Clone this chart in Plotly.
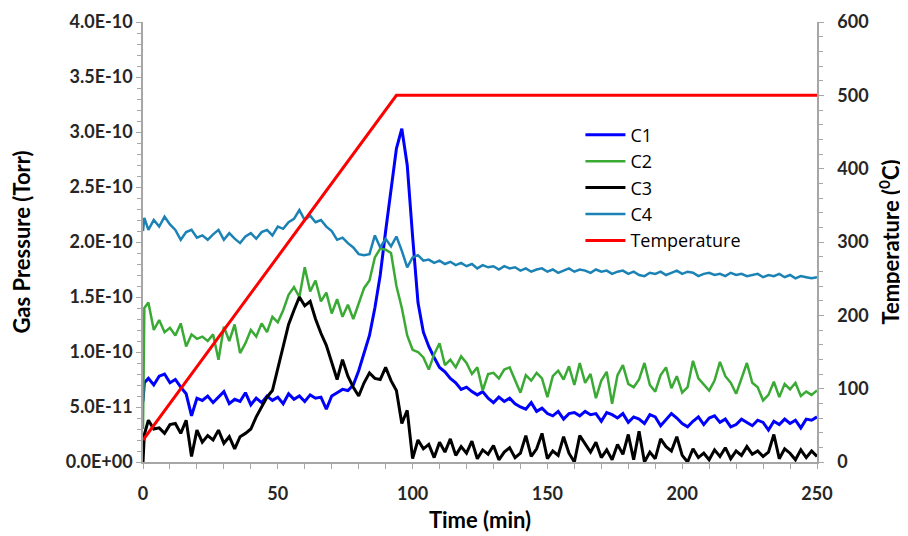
import plotly.graph_objects as go

# Time axis (min)
time = [0, 0.5] + list(range(2, 251, 2))

# Gas pressures in units of 1E-11 Torr
c1 = [5.5, 7.2, 7.6, 7.0, 7.8, 8.0, 7.2, 7.5, 6.8, 6.2,
      4.2, 5.8, 5.6, 6.0, 5.4, 5.9, 6.4, 5.3, 5.7, 5.5,
      6.3, 5.2, 5.8, 5.4, 6.0, 5.6, 5.9, 5.3, 6.2, 5.7,
      6.0, 5.5, 6.1, 5.8, 5.9, 4.8, 6.0, 6.3, 6.6, 6.5,
      7.0, 8.3, 10.0, 11.5, 14.0, 17.0, 21.0, 25.0, 28.5, 30.3,
      27.0, 20.5, 14.5, 11.8, 10.5, 9.5, 8.6, 8.2, 7.6, 7.2,
      6.6, 6.8, 6.4, 6.1, 6.4, 5.8, 5.4, 5.9, 5.5, 5.8,
      5.3, 5.0, 4.8, 5.4, 4.6, 4.9, 4.4, 4.2, 4.6, 3.9,
      4.4, 4.5, 4.2, 4.6, 4.3, 4.4, 3.7, 4.5, 4.3, 4.0,
      4.4, 3.6, 4.1, 3.9, 3.5, 4.3, 4.1, 3.3, 3.9, 4.4,
      4.0, 3.5, 3.2, 3.7, 4.1, 3.4, 4.0, 4.2, 3.6, 3.9,
      3.2, 3.4, 3.9, 3.6, 3.3, 3.8, 3.6, 2.9, 3.7, 3.4,
      3.9, 3.5, 3.8, 3.1, 3.9, 3.8, 4.1]

c2 = [3.0, 14.0, 14.5, 12.0, 12.9, 11.8, 12.2, 11.5, 12.6, 10.5,
      11.6, 11.2, 11.4, 11.0, 11.6, 9.3, 12.3, 11.0, 12.5, 9.9,
      10.8, 12.0, 11.4, 12.6, 11.8, 13.2, 12.7, 13.8, 15.2, 15.9,
      15.0, 17.7, 15.5, 16.5, 14.6, 15.4, 13.5, 14.8, 13.2, 14.3,
      13.0, 14.4, 15.8, 16.5, 18.6, 19.4, 19.3, 19.0, 16.0, 14.0,
      11.5, 10.2, 10.0, 9.5, 8.4, 9.8, 10.8, 8.8, 9.3, 8.6,
      9.6, 9.0, 8.0, 8.6, 6.5, 8.0, 8.1, 7.6, 8.4, 8.6,
      7.5, 6.3, 7.9, 7.4, 8.1, 7.6, 5.9, 7.8, 8.3, 7.5,
      8.7, 7.0, 9.0, 7.2, 8.0, 5.8, 7.4, 8.2, 5.3, 7.9,
      8.8, 7.1, 6.8, 7.5, 9.0, 7.0, 6.4, 7.9, 8.6, 6.7,
      7.8, 6.3, 6.8, 9.2, 7.6, 7.0, 6.5, 7.4, 9.1, 7.8,
      7.2, 6.2, 7.6, 9.0, 7.2, 6.8, 5.6, 6.1, 7.3, 5.9,
      7.1, 6.6, 7.2, 6.0, 6.4, 6.1, 6.5]

c3 = [0.0, 2.5, 3.8, 3.0, 3.1, 2.6, 3.4, 3.5, 2.6, 3.8,
      0.5, 2.9, 1.8, 2.4, 2.0, 2.9, 1.7, 2.3, 1.2, 2.3,
      2.6, 3.0, 4.1, 5.0, 5.9, 6.5, 8.6, 10.5, 12.5, 13.8,
      15.0, 14.2, 14.6, 13.0, 11.7, 10.6, 9.0, 7.5, 9.3, 7.8,
      6.8, 6.0, 7.2, 8.1, 7.6, 7.5, 8.6, 7.4, 6.5, 3.5,
      4.7, 0.3, 2.0, 1.2, 1.6, 0.4, 1.8, 0.9, 2.1, 0.6,
      1.4, 0.8, 1.9, 0.3, 1.1, 0.7, 1.5, 0.2, 0.9, 1.3,
      0.4, 0.8, 2.4, 0.5, 1.2, 2.6, 0.3, 1.0, 0.6, 2.3,
      0.8, 0.0, 2.4, 1.6, 0.9, 1.8, 0.4, 1.1, 0.2, 1.6,
      0.7, 2.5, 0.2, 2.8, 0.0, 0.9, 0.3, 2.1, 1.4, 1.0,
      2.3, 0.6, 0.0, 1.2, 0.4, 0.8, 0.2, 1.1, 0.5, 1.3,
      0.3, 1.0, 0.6, 1.4, 0.7, 1.0, 0.5, 0.9, 2.5, 0.3,
      1.2, 0.8, 0.2, 1.1, 0.4, 1.0, 0.5]

c4 = [21.0, 22.2, 21.1, 22.0, 21.4, 22.3, 21.6, 21.1, 20.2, 20.9,
      21.1, 20.4, 20.6, 20.2, 20.7, 21.1, 20.2, 20.8, 20.3, 19.9,
      20.5, 20.8, 20.3, 20.9, 21.1, 20.6, 21.4, 21.2, 21.8, 22.1,
      22.9, 22.0, 22.4, 21.8, 22.0, 21.4, 21.0, 20.2, 20.4, 19.9,
      19.5, 18.9, 18.8, 18.9, 20.6, 19.5, 20.3, 19.6, 20.5, 19.2,
      17.7, 18.6, 18.8, 18.3, 18.4, 18.1, 18.3, 18.0, 18.2, 17.9,
      18.1, 17.8, 18.0, 17.6, 17.9, 17.7, 17.8, 17.5, 17.8, 17.6,
      17.7, 17.4, 17.6, 17.3, 17.5, 17.6, 17.3, 17.5, 17.2, 17.4,
      17.6, 17.3, 17.5, 17.4, 17.2, 17.5, 17.3, 17.4, 17.1, 17.3,
      17.4, 17.1, 17.3, 17.0, 16.9, 17.2, 17.1, 17.3, 17.0, 17.2,
      17.4, 17.1, 17.3, 17.2, 16.9, 17.1, 17.2, 17.0, 17.1, 16.9,
      17.2, 17.0, 17.1, 16.9, 17.0, 17.1, 16.8, 17.0, 16.9, 17.1,
      16.8, 17.0, 16.7, 16.9, 16.8, 16.7, 16.8]

# Temperature profile (deg C)
temp_time = [0, 94, 250]
temp_vals = [30, 500, 500]

# Tick labels
p_tickvals = [0, 0.5e-10, 1.0e-10, 1.5e-10, 2.0e-10, 2.5e-10, 3.0e-10, 3.5e-10, 4.0e-10]
p_ticktext = ["0.0E+00", "5.0E-11", "1.0E-10", "1.5E-10", "2.0E-10",
              "2.5E-10", "3.0E-10", "3.5E-10", "4.0E-10"]

for s in (c1, c2, c3, c4):
    assert len(s) == len(time), len(s)

scale = 1e-11
series = [("C1", c1, "#0000FF", 3), ("C2", c2, "#3AAA35", 2.5),
          ("C3", c3, "#000000", 3), ("C4", c4, "#1B82B5", 2.5)]

fig = go.Figure()
for name, vals, color, w in series:
    fig.add_trace(go.Scatter(x=time, y=[v * scale for v in vals], name=name,
                             mode="lines", line=dict(color=color, width=w)))
fig.add_trace(go.Scatter(x=temp_time, y=temp_vals, name="Temperature", mode="lines",
                         line=dict(color="#FF0000", width=3), yaxis="y2"))

font_fam = "Lato, Open Sans, sans-serif"
axis_col = "#A6A6A6"
tickfont = dict(family=font_fam, size=18, color="#262626", weight="bold")
titlefont = dict(family=font_fam, size=22, color="#000000", weight="bold")

fig.update_layout(
    width=900, height=528,
    margin=dict(l=135, r=91, t=14, b=74),
    paper_bgcolor="white", plot_bgcolor="white",
    showlegend=True,
    legend=dict(x=0.649, y=0.785, xanchor="left", yanchor="top",
                font=dict(family="Open Sans, sans-serif", size=18, color="#000000"),
                bgcolor="rgba(0,0,0,0)", tracegroupgap=0, itemwidth=40),
    xaxis=dict(range=[0, 250], tickvals=[0, 50, 100, 150, 200, 250], automargin=False,
               showgrid=False, zeroline=False, showline=True, linecolor=axis_col,
               linewidth=1.5, ticks="outside", ticklen=5, tickcolor=axis_col,
               tickfont=tickfont, ticklabelstandoff=10,
               minor=dict(dtick=10, ticks="outside", ticklen=5, tickcolor=axis_col),
               title=dict(text="Time (min)", font=titlefont, standoff=9)),
    yaxis=dict(range=[0, 4.0e-10], tickvals=p_tickvals, ticktext=p_ticktext, automargin=False,
               showgrid=False, zeroline=False, showline=True, linecolor=axis_col,
               linewidth=1.5, ticks="outside", ticklen=5, tickcolor=axis_col,
               tickfont=tickfont,
               minor=dict(tick0=0, dtick=1e-11, ticks="outside", ticklen=4, tickcolor=axis_col),
               title=dict(text="Gas Pressure (Torr)", font=titlefont, standoff=30)),
    yaxis2=dict(range=[0, 600], dtick=100, overlaying="y", side="right", automargin=False,
                showgrid=False, zeroline=False, showline=True, linecolor=axis_col,
                linewidth=1.5, ticks="outside", ticklen=5, tickcolor=axis_col,
                tickfont=tickfont, ticklabelstandoff=10,
                minor=dict(dtick=20, ticks="outside", ticklen=4, tickcolor=axis_col),
                title=dict(text="Temperature (<sup>0</sup>C)", font=titlefont, standoff=16)),
)

fig.write_html("out.html")
